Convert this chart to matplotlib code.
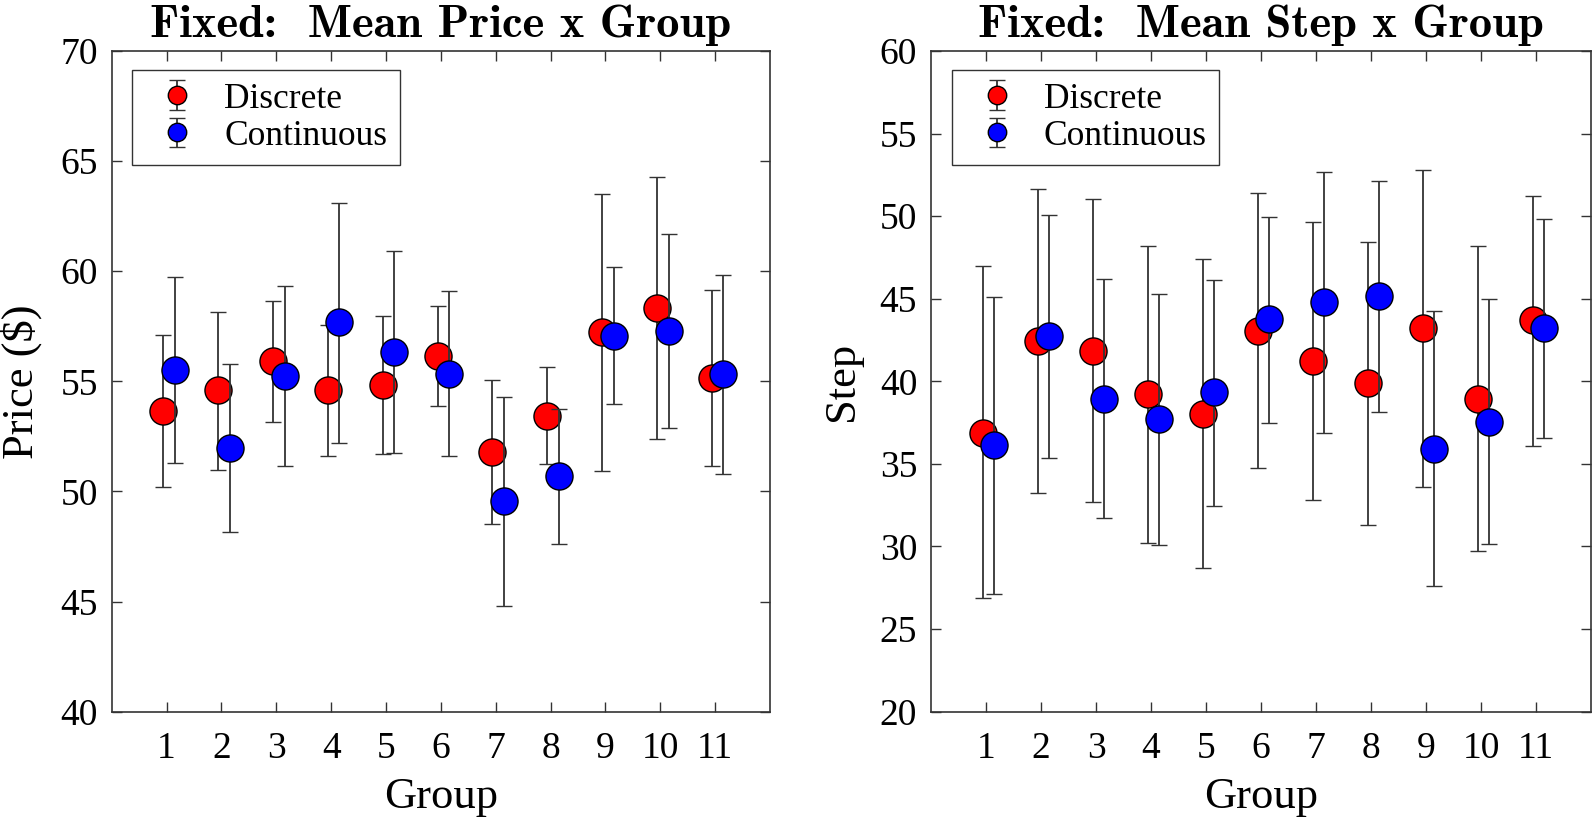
import os
import numpy as np
import matplotlib
matplotlib.use("Agg")
import matplotlib.pyplot as plt
from matplotlib.legend_handler import HandlerErrorbar
from matplotlib.container import ErrorbarContainer
from matplotlib.font_manager import FontProperties

groups = np.arange(1, 12)
group_labels = [str(g) for g in groups]

# Left panel: Price
price_disc = [53.64, 54.59, 55.93, 54.61, 54.82, 56.16, 51.77, 53.44, 57.24, 58.33, 55.14]
price_disc_lo = [50.18, 50.98, 53.17, 51.61, 51.69, 53.90, 48.50, 51.26, 50.93, 52.36, 51.14]
price_disc_hi = [57.09, 58.15, 58.64, 57.58, 57.97, 58.41, 55.04, 55.65, 63.52, 64.27, 59.17]
price_cont = [55.53, 51.97, 55.24, 57.68, 56.34, 55.33, 49.55, 50.69, 57.07, 57.28, 55.33]
price_cont_lo = [51.28, 48.17, 51.16, 52.22, 51.75, 51.59, 44.78, 47.60, 53.96, 52.89, 50.79]
price_cont_hi = [59.74, 55.77, 59.31, 63.09, 60.93, 59.09, 54.29, 53.76, 60.20, 61.67, 59.84]

# Right panel: Step
step_disc = [36.90, 42.44, 41.84, 39.24, 38.03, 43.07, 41.23, 39.87, 43.20, 38.95, 43.70]
step_disc_lo = [26.90, 33.25, 32.68, 30.24, 28.69, 34.75, 32.81, 31.29, 33.62, 29.74, 36.09]
step_disc_hi = [46.98, 51.65, 51.02, 48.22, 47.40, 51.39, 49.66, 48.43, 52.81, 48.19, 51.23]
step_cont = [36.12, 42.73, 38.92, 37.72, 39.34, 43.75, 44.80, 45.17, 35.91, 37.56, 43.20]
step_cont_lo = [27.14, 35.38, 31.71, 30.08, 32.44, 37.48, 36.90, 38.16, 27.59, 30.13, 36.56]
step_cont_hi = [45.12, 50.08, 46.22, 45.30, 46.14, 49.97, 52.65, 52.15, 44.25, 44.96, 49.82]

plt.rcParams['font.family'] = ['Liberation Serif', 'DejaVu Serif']
plt.rcParams['mathtext.fontset'] = 'cm'

cmb_path = os.path.join(matplotlib.get_data_path(), 'fonts', 'ttf', 'cmb10.ttf')
title_font = FontProperties(fname=cmb_path, size=33.5)

fig = plt.figure(figsize=(15.94, 8.19), dpi=100)
ax1 = fig.add_axes([0.0701, 0.1311, 0.4130, 0.8066])
ax2 = fig.add_axes([0.5841, 0.1311, 0.4140, 0.8066])

spine_col = '#333333'
bar_col = '#333333'

def panel(ax, d, dlo, dhi, c, clo, chi, ylim, title, ylabel):
    d = np.array(d); c = np.array(c)
    derr = [d - np.array(dlo), np.array(dhi) - d]
    cerr = [c - np.array(clo), np.array(chi) - c]
    h1 = ax.errorbar(groups - 0.06, d, yerr=derr, fmt='o', color=bar_col,
                     ecolor=bar_col, elinewidth=1.3, capsize=5.6, capthick=1.3,
                     markersize=19.5, markerfacecolor='#ff0000',
                     markeredgecolor='black', markeredgewidth=1.0, zorder=2,
                     label='Discrete')
    h2 = ax.errorbar(groups + 0.15, c, yerr=cerr, fmt='o', color=bar_col,
                     ecolor=bar_col, elinewidth=1.3, capsize=5.6, capthick=1.3,
                     markersize=19.5, markerfacecolor='#0000ff',
                     markeredgecolor='black', markeredgewidth=1.0, zorder=3,
                     label='Continuous')
    ax.set_xlim(0, 12)
    ax.set_ylim(*ylim)
    ax.set_xticks(groups)
    ax.set_xticklabels(group_labels)
    ax.set_yticks(np.arange(ylim[0], ylim[1] + 1, 5))
    ax.tick_params(axis='both', direction='in', length=7, width=1.0,
                   labelsize=27, top=True, right=True, color=spine_col, pad=10)
    ax.tick_params(axis='x', pad=14)
    for s in ax.spines.values():
        s.set_color(spine_col)
        s.set_linewidth(1.2)
    ax.set_title(title, fontproperties=title_font, pad=10)
    ax.set_xlabel('Group', fontsize=32, labelpad=8)
    ax.set_ylabel(ylabel, fontsize=32, labelpad=13)
    leg = ax.legend(handles=[h1, h2], loc='upper left',
                    bbox_to_anchor=(0.031, 0.971), borderaxespad=0,
                    fontsize=25.5, markerscale=0.68, fancybox=False,
                    framealpha=1, edgecolor=spine_col, handlelength=1.85,
                    handletextpad=0.4, labelspacing=0.12, borderpad=0.35,
                    handler_map={ErrorbarContainer: HandlerErrorbar(xerr_size=0.42)})
    leg.get_frame().set_linewidth(1.0)

panel(ax1, price_disc, price_disc_lo, price_disc_hi,
      price_cont, price_cont_lo, price_cont_hi, (40, 70),
      'Fixed:  Mean Price x Group', 'Price (\\$)')
panel(ax2, step_disc, step_disc_lo, step_disc_hi,
      step_cont, step_cont_lo, step_cont_hi, (20, 60),
      'Fixed:  Mean Step x Group', 'Step')

fig.savefig('out.png', dpi=100)
